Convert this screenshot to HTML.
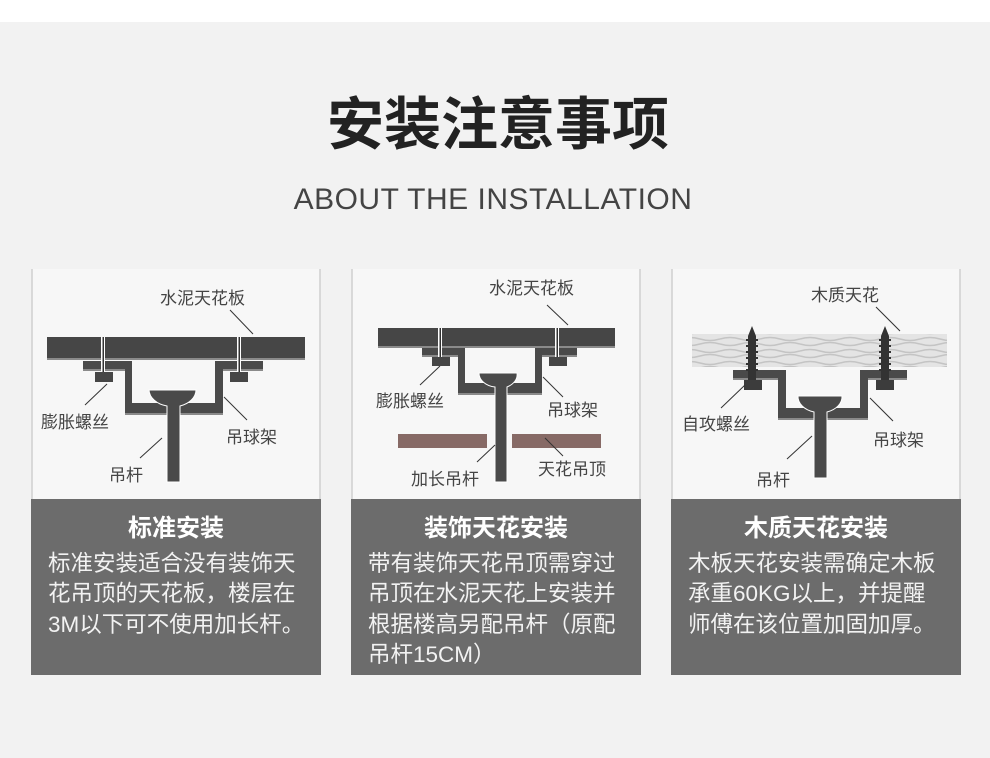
<!DOCTYPE html>
<html><head><meta charset="utf-8"><style>
body{margin:0;width:990px;height:753px;background:#f2f2f2;overflow:hidden;font-family:"Liberation Sans","Noto Sans CJK SC",sans-serif}
</style></head><body>
<svg width="990" height="753" xmlns="http://www.w3.org/2000/svg" font-family="Liberation Sans, Noto Sans CJK SC, sans-serif">
<defs>
<pattern id="wood" width="40" height="12" patternUnits="userSpaceOnUse">
<rect width="40" height="12" fill="#e4e4e4"/>
<path d="M0 3 Q10 0 20 3 T40 3 M0 8 Q10 11 20 8 T40 8" stroke="#c4c4c4" stroke-width="1.5" fill="none"/>
</pattern>
</defs>
<rect x="0" y="0" width="990" height="22" fill="#ffffff"/>
<text x="498" y="144" text-anchor="middle" font-size="57" font-weight="bold" fill="#222" font-family="Noto Sans CJK SC, sans-serif">安装注意事项</text>
<text x="493" y="209" text-anchor="middle" font-size="30" fill="#444" letter-spacing="0.5">ABOUT THE INSTALLATION</text>

<g fill="#f7f7f7" stroke="#cfcfcf" stroke-width="1.5">
<rect x="32" y="268" width="288" height="232"/>
<rect x="352" y="268" width="288" height="232"/>
<rect x="672" y="268" width="288" height="232"/>
</g>
<rect x="20" y="262" width="960" height="7" fill="#f2f2f2"/>
<g fill="#6c6c6c">
<rect x="31" y="499" width="290" height="176"/>
<rect x="351" y="499" width="290" height="176"/>
<rect x="671" y="499" width="290" height="176"/>
</g>

<g>
<rect x="47" y="339" width="258" height="21" fill="#8a8a8a"/>
<rect x="47" y="337" width="258" height="21" fill="#464646"/>
<path d="M83 361 H132 V403 H215 V361 H263 V369 H223 V413 H125 V369 H83 Z" fill="#8a8a8a" transform="translate(0,2)"/>
<path d="M83 361 H132 V403 H215 V361 H263 V369 H223 V413 H125 V369 H83 Z" fill="#4a4a4a"/>
<rect x="95" y="372" width="18" height="10" fill="#464646"/>
<rect x="230" y="372" width="18" height="10" fill="#464646"/>
<rect x="101" y="337" width="4" height="35" fill="#fff"/><rect x="102.5" y="337" width="1.5" height="35" fill="#333"/>
<rect x="237" y="337" width="4" height="35" fill="#fff"/><rect x="238.5" y="337" width="1.5" height="35" fill="#333"/>
<path d="M149 390 H196 A23 17 0 0 1 180 406 V482 H167 V406 A23 17 0 0 1 149 390Z" fill="#4a4a4a" stroke="#fff" stroke-width="1"/>
<g stroke="#333" stroke-width="1"><line x1="230" y1="310" x2="253" y2="334"/><line x1="85" y1="405" x2="107" y2="384"/><line x1="224" y1="397" x2="247" y2="420"/><line x1="140" y1="458" x2="162" y2="438"/></g>
<g font-size="17" fill="#444"><text x="160" y="304">水泥天花板</text><text x="41" y="428">膨胀螺丝</text><text x="226" y="443">吊球架</text><text x="109" y="481">吊杆</text></g>
</g>

<g>
<rect x="378" y="330" width="237" height="18" fill="#8a8a8a"/>
<rect x="378" y="328" width="237" height="18" fill="#464646"/>
<path d="M422 348 H465 V383 H535 V348 H577 V355 H542 V393 H458 V355 H422 Z" fill="#8a8a8a" transform="translate(0,2)"/>
<path d="M422 348 H465 V383 H535 V348 H577 V355 H542 V393 H458 V355 H422 Z" fill="#4a4a4a"/>
<rect x="432" y="357" width="18" height="9" fill="#464646"/>
<rect x="549" y="357" width="18" height="9" fill="#464646"/>
<rect x="438" y="328" width="4" height="29" fill="#fff"/><rect x="439.5" y="328" width="1.5" height="29" fill="#333"/>
<rect x="555" y="328" width="4" height="29" fill="#fff"/><rect x="556.5" y="328" width="1.5" height="29" fill="#333"/>
<path d="M479 373 H517 A19 14 0 0 1 507 387 V482 H495 V387 A19 14 0 0 1 479 373Z" fill="#4a4a4a" stroke="#fff" stroke-width="1"/>
<rect x="398" y="434" width="89" height="14" fill="#876a66"/>
<rect x="512" y="434" width="89" height="14" fill="#876a66"/>
<g stroke="#333" stroke-width="1"><line x1="547" y1="305" x2="568" y2="325"/><line x1="420" y1="385" x2="440" y2="366"/><line x1="543" y1="377" x2="563" y2="397"/><line x1="545" y1="438" x2="563" y2="456"/><line x1="477" y1="462" x2="495" y2="445"/></g>
<g font-size="17" fill="#444"><text x="489" y="294">水泥天花板</text><text x="376" y="407">膨胀螺丝</text><text x="547" y="416">吊球架</text><text x="538" y="475">天花吊顶</text><text x="411" y="485">加长吊杆</text></g>
</g>

<g>
<rect x="692" y="334" width="255" height="33" fill="url(#wood)"/>
<path d="M733 370 H786 V408 H860 V370 H907 V378 H868 V418 H778 V378 H733 Z" fill="#8a8a8a" transform="translate(0,2)"/>
<path d="M733 370 H786 V408 H860 V370 H907 V378 H868 V418 H778 V378 H733 Z" fill="#4a4a4a"/>
<rect x="744" y="380" width="18" height="10" fill="#3c3c3c"/>
<rect x="876" y="380" width="18" height="10" fill="#3c3c3c"/>
<g fill="#333">
<path d="M752 326 L756 336 V380 H748 V336 Z"/>
<path d="M885 326 L889 336 V380 H881 V336 Z"/>
</g>
<g stroke="#333" stroke-width="2">
<path d="M746 340h12M746 346h12M746 352h12M746 358h12M746 364h12M746 370h12"/>
<path d="M879 340h12M879 346h12M879 352h12M879 358h12M879 364h12M879 370h12"/>
</g>
<path d="M798 396 H842 A22 16 0 0 1 827 412 V478 H814 V412 A22 16 0 0 1 798 396Z" fill="#4a4a4a" stroke="#fff" stroke-width="1"/>
<g stroke="#333" stroke-width="1"><line x1="876" y1="307" x2="900" y2="331"/><line x1="721" y1="408" x2="745" y2="385"/><line x1="870" y1="398" x2="893" y2="421"/><line x1="787" y1="459" x2="812" y2="436"/></g>
<g font-size="17" fill="#444"><text x="811" y="301">木质天花</text><text x="682" y="430">自攻螺丝</text><text x="873" y="446">吊球架</text><text x="756" y="486">吊杆</text></g>
</g>

<g fill="#fff" font-size="24" font-weight="bold" text-anchor="middle">
<text x="176" y="536">标准安装</text><text x="496" y="536">装饰天花安装</text><text x="816" y="536">木质天花安装</text>
</g>
<g fill="#f2f2f2" font-size="22.5">
<text x="48" y="571">标准安装适合没有装饰天</text>
<text x="48" y="601">花吊顶的天花板，楼层在</text>
<text x="48" y="632">3M以下可不使用加长杆。</text>
<text x="368" y="571">带有装饰天花吊顶需穿过</text>
<text x="368" y="601">吊顶在水泥天花上安装并</text>
<text x="368" y="632">根据楼高另配吊杆（原配</text>
<text x="368" y="662">吊杆15CM）</text>
<text x="688" y="571">木板天花安装需确定木板</text>
<text x="688" y="601">承重60KG以上，并提醒</text>
<text x="688" y="632">师傅在该位置加固加厚。</text>
</g>
</svg>
</body></html>
